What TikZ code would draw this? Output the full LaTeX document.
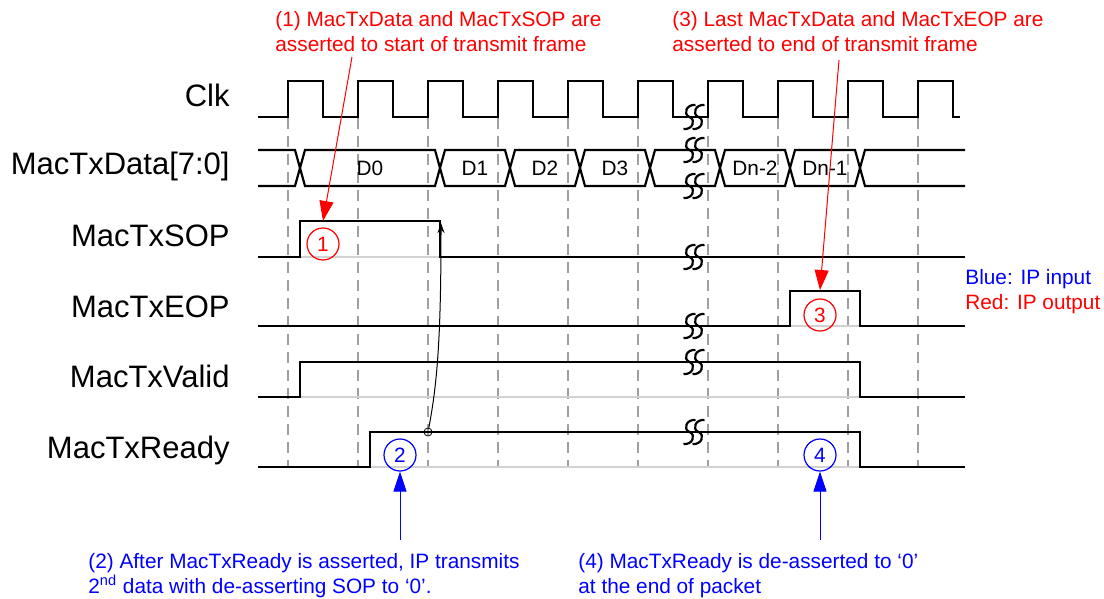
\documentclass[tikz,border=0pt]{standalone}
\usepackage{fontspec}
\setmainfont{Liberation Sans}
\usepackage{tikz}
\usetikzlibrary{arrows.meta}

\begin{document}
\begin{tikzpicture}[
  x=0.5pt, y=-0.5pt,
  font=\fontsize{10.4}{12.5}\selectfont,
  siglabel/.style={anchor=base east, inner sep=0pt, font=\fontsize{15.5}{18}\selectfont},
  notetext/.style={anchor=base west, align=left, inner sep=0pt},
  wave/.style={line width=1.1pt},
  lowref/.style={gray!35, line width=0.6pt},
  edgeline/.style={gray!75, line width=0.7pt, dash pattern=on 5.5pt off 3.5pt},
  rednum/.style={circle, draw=red, text=red, line width=0.6pt, minimum size=16pt, inner sep=0pt},
  bluenum/.style={circle, draw=blue, text=blue, line width=0.6pt, minimum size=16pt, inner sep=0pt},
  redarrow/.style={red, line width=0.5pt, -{Triangle[length=10pt,width=7pt]}},
  bluearrow/.style={blue, line width=0.5pt, -{Triangle[length=10pt,width=6.5pt]}},
  cause/.style={line width=0.5pt, -{Stealth[length=5pt,width=3.5pt]}},
  hold/.style={circle, draw, line width=0.4pt, minimum size=4pt, inner sep=0pt},
  brk/.pic={
    \foreach \c in {-4.5,4.5}
      \draw[line width=1.1pt] (\c+6,-12) .. controls (\c-3,-13) and (\c-7,-3) .. (\c,0) .. controls (\c+7,3) and (\c+3,13) .. (\c-6,12);
  }
]
  \useasboundingbox (0,0) rectangle (1104,599);

  % signal names
  \node [siglabel] (clk) at (230,107) {Clk};
  \node [siglabel] (data) at (230,175) {MacTxData[7:0]};
  \node [siglabel] (sop) at (230,247) {MacTxSOP};
  \node [siglabel] (eop) at (230,317) {MacTxEOP};
  \node [siglabel] (valid) at (230,387) {MacTxValid};
  \node [siglabel] (ready) at (230,458) {MacTxReady};

  % clock edges
  \foreach \x in {288,358,...,918}
    \draw [edgeline] (\x,118) -- (\x,468);

  % low reference lines
  \draw [lowref] (300,257) -- (440,257);
  \draw [lowref] (790,326) -- (860,326);
  \draw [lowref] (300,397) -- (860,397);
  \draw [lowref] (370,467) -- (860,467);

  % waveforms
  \draw [wave] (258,117) \foreach \x in {288,358,...,918} { -- (\x,117) -- (\x,81) -- (\x+35,81) -- (\x+35,117) } -- (960,117);

  \draw [wave] (258,150) -- (295,150) -- (300,168) -- (295,186) -- (258,186);
  \foreach \a/\b/\t [count=\i] in {300/440/D0, 440/510/D1, 510/580/D2, 580/650/D3, 650/720/{}, 720/790/Dn-2, 790/860/Dn-1} {
    \draw [wave] (\a,168) -- (\a+5,150) -- (\b-5,150) -- (\b,168) -- (\b-5,186) -- (\a+5,186) -- cycle;
    \node (d\i) at ({(\a+\b)/2},168) {\t};
  }
  \draw [wave] (965,150) -- (865,150) -- (860,168) -- (865,186) -- (965,186);

  \draw [wave] (258,257) -- (300,257) -- (300,221) -- (440,221) -- (440,257) -- (965,257);
  \draw [wave] (258,326) -- (790,326) -- (790,291) -- (860,291) -- (860,326) -- (965,326);
  \draw [wave] (258,397) -- (300,397) -- (300,362) -- (860,362) -- (860,397) -- (965,397);
  \draw [wave] (258,467) -- (370,467) -- (370,432) -- (860,432) -- (860,467) -- (965,467);

  % time breaks
  \foreach \y in {117,150,186,257,326,362,432}
    \pic at (694,\y) {brk};

  % markers
  \node [rednum] (m1) at (323,244) {1};
  \node [bluenum] (m2) at (400,455) {2};
  \node [rednum] (m3) at (820,315) {3};
  \node [bluenum] (m4) at (820,455) {4};

  % ready -> sop de-assert
  \node [hold] (rdy) at (428,432) {};
  \coordinate (sopdn) at (441,223);
  \draw [cause] (rdy) .. controls (438,380) and (441,330) .. (sopdn);

  % notes
  \node [notetext, red] (n1) at (275,52) {(1) MacTxData and MacTxSOP are\\asserted to start of transmit frame};
  \node [notetext, red] (n3) at (672,52) {(3) Last MacTxData and MacTxEOP are\\asserted to end of transmit frame};
  \node [notetext, blue] (n2) at (88,593) {(2) After MacTxReady is asserted, IP transmits\\2\textsuperscript{nd} data with de-asserting SOP to ‘0’.};
  \node [notetext, blue] (n4) at (578,593) {(4) MacTxReady is de-asserted to ‘0’\\at the end of packet};

  \node [notetext, blue] (lgb) at (965,285) {Blue: IP input};
  \node [notetext, red] (lgr) at (965,309) {Red: IP output};

  \coordinate (a1) at (352,57);
  \coordinate (sophi) at (323,221);
  \draw [redarrow] (a1) -- (sophi);
  \coordinate (a3) at (839,60);
  \coordinate (eophi) at (820,290);
  \draw [redarrow] (a3) -- (eophi);
  \coordinate (b2) at (400,540);
  \draw [bluearrow] (b2) -- (m2);
  \coordinate (b4) at (820,540);
  \draw [bluearrow] (b4) -- (m4);
\end{tikzpicture}
\end{document}
